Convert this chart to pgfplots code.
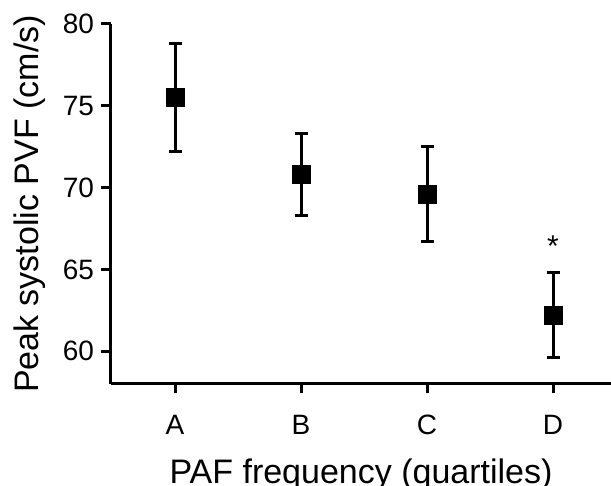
\documentclass[border=0pt]{standalone}
\usepackage{pgfplots}
\pgfplotsset{compat=1.18}
\usepackage{fontspec}
\setmainfont{Liberation Sans}

\begin{document}
\begin{tikzpicture}[x=1pt,y=1pt]
\begin{axis}[
    scale only axis,
    width=500pt, height=360pt,
    xmin=-0.508, xmax=3.46,
    ymin=58, ymax=80,
    axis x line*=bottom,
    axis y line*=left,
    axis line style={line width=3pt, -},
    xtick={0,1,2,3},
    xticklabels={A,B,C,D},
    ytick={60,65,70,75,80},
    tick align=outside,
    major tick length=9.5pt,
    tick style={line width=3pt, black},
    tick label style={font=\fontsize{28}{32}\selectfont},
    /pgf/number format/assume math mode=true,
    xticklabel style={yshift=-18pt},
    yticklabel style={xshift=-4pt},
    xlabel={PAF frequency (quartiles)},
    ylabel={Peak systolic PVF (cm/s)},
    label style={font=\fontsize{34}{38}\selectfont},
    xlabel style={yshift=-17pt},
    ylabel style={yshift=10pt},
    clip=false,
]
\coordinate (o) at (rel axis cs:0,0);
\addplot[
    only marks,
    mark=square*,
    mark size=9pt,
    mark options={line width=0.5pt},
    black,
    error bars/.cd,
    y dir=both, y explicit,
    error bar style={line width=3pt, black},
    error mark options={rotate=90, mark size=6.5pt, line width=3.2pt, black},
] coordinates {
    (0,75.5) +- (0,3.3)
    (1,70.8) +- (0,2.5)
    (2,69.6) +- (0,2.9)
    (3,62.2) +- (0,2.6)
};
\node[font=\fontsize{30}{34}\selectfont] at (axis cs:3,66.4) {*};
\end{axis}
\pgfresetboundingbox
\useasboundingbox ([xshift=-111pt,yshift=-102pt]o) rectangle ([xshift=500pt,yshift=384pt]o);
\end{tikzpicture}
\end{document}
